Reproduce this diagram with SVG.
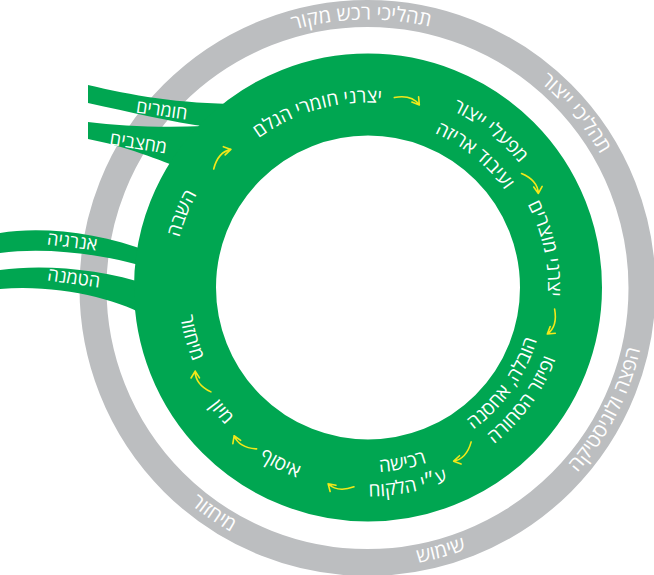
<svg xmlns="http://www.w3.org/2000/svg" width="654" height="575" viewBox="0 0 654 575">
<style>
.g{fill:#00a651}
.t{fill:#fff;font-family:"Open Sans","Liberation Sans","DejaVu Sans",sans-serif}
.gl{font-size:20px}
.rl{font-size:19px}
.bl{font-size:18px}
.arw{fill:none;stroke:#f3e81a;stroke-width:1.6;stroke-linecap:round;stroke-linejoin:round}
</style>
<defs>
<path id="pG1" d="M190.3,86.3 A268.5,268.5 0 0 1 535.4,78.5"/>
<path id="pG2" d="M459.3,35.7 A268.5,268.5 0 0 1 631.9,241.4"/>
<path id="pG3" d="M453.9,553.8 A279.5,279.5 0 0 0 633.3,201.6"/>
<path id="pG4" d="M298,558.7 A279.5,279.5 0 0 0 567.2,483.6"/>
<path id="pG5" d="M115.6,409.2 A279.5,279.5 0 0 0 346.5,566.7"/>
<path id="pL1" d="M214.6,184 A185,185 0 0 1 443.2,118.5"/>
<path id="pL2a" d="M378.3,91.8 A196,196 0 0 1 555.4,230.2"/>
<path id="pL2b" d="M365.1,119.5 A168,168 0 0 1 532.9,255.4"/>
<path id="pL3" d="M489.8,155 A180,180 0 0 1 534.2,356.7"/>
<path id="pL4a" d="M412.9,458.7 A177,177 0 0 0 544.4,273"/>
<path id="pL4b" d="M416.6,482.5 A201,201 0 0 0 568.5,273.5"/>
<path id="pL5a" d="M308.1,462.5 A185,185 0 0 0 489.6,426.9"/>
<path id="pL5b" d="M301.3,485.6 A209,209 0 0 0 506.2,444.3"/>
<path id="pL6" d="M209.1,413.9 A203,203 0 0 0 362.7,490.4"/>
<path id="pL7" d="M177,339.8 A198,198 0 0 0 285.3,467.4"/>
<path id="pL8" d="M180.5,257.1 A190,190 0 0 0 224.2,411.6"/>
<path id="pL9" d="M173.3,298.7 A195,195 0 0 1 234.3,145.6"/>
<g id="arrow"><path d="M-13,0 Q3,-7 13,1.5 M5.1,0.4 L13,1.5 L10.5,-6.1"/></g>
</defs>

<g id="outer-ring">
<circle cx="367.5" cy="288" r="274.5" fill="none" stroke="#bcbec0" stroke-width="27"/>
<text class="t gl" text-anchor="middle"><textPath href="#pG1" startOffset="50%">תהליכי רכש מקור</textPath></text>
<text class="t gl" text-anchor="middle"><textPath href="#pG2" startOffset="50%">תהליכי ייצור</textPath></text>
<text class="t gl" text-anchor="middle"><textPath href="#pG3" startOffset="50%">הפצה ולוגיסטיקה</textPath></text>
<text class="t gl" text-anchor="middle"><textPath href="#pG4" startOffset="50%">שימוש</textPath></text>
<text class="t gl" text-anchor="middle"><textPath href="#pG5" startOffset="50%">מיחזור</textPath></text>
</g>

<g id="inputs">
<g id="band-materials">
<path class="g" d="M88,85 C130,95 180,104 240,104 L210,127 C170,122 130,112 88,103 Z"/>
<text class="t bl" text-anchor="middle" transform="translate(161,116) rotate(8)">חומרים</text>
</g>
<g id="band-minerals">
<path class="g" d="M88,122 C120,126 160,128 205,126 L185,170 C160,160 125,146 88,139 Z"/>
<text class="t bl" text-anchor="middle" transform="translate(137.5,149) rotate(9)">מחצבים</text>
</g>
<g id="band-energy">
<path class="g" d="M0,233 C40,226 100,232 150,252 L150,268 C110,256 50,246 0,253 Z"/>
<text class="t bl" text-anchor="middle" transform="translate(71.5,247.5) rotate(7)">אנרגיה</text>
</g>
<g id="band-landfill">
<path class="g" d="M0,270 C40,264 100,268 150,285 L150,318 C120,300 60,284 0,289 Z"/>
<text class="t bl" text-anchor="middle" transform="translate(73,284) rotate(8)">הטמנה</text>
</g>
</g>

<g id="cycle-ring">
<circle cx="368" cy="287.5" r="193" fill="none" stroke="#00a651" stroke-width="82"/>
</g>

<g id="stages">
<g id="s1"><text class="t rl" text-anchor="middle"><textPath href="#pL1" startOffset="50%">יצרני חומרי הגלם</textPath></text></g>
<g id="s2"><text class="t rl" text-anchor="middle"><textPath href="#pL2a" startOffset="50%">מפעלי ייצור</textPath></text>
<text class="t rl" text-anchor="middle"><textPath href="#pL2b" startOffset="50%">ועיבוד אריזה</textPath></text></g>
<g id="s3"><text class="t rl" text-anchor="middle"><textPath href="#pL3" startOffset="50%">יצרני מוצרים</textPath></text></g>
<g id="s4"><text class="t rl" text-anchor="middle"><textPath href="#pL4a" startOffset="50%">הובלה, אחסנה</textPath></text>
<text class="t rl" text-anchor="middle"><textPath href="#pL4b" startOffset="50%">ופיזור הסחורה</textPath></text></g>
<g id="s5"><text class="t rl" text-anchor="middle"><textPath href="#pL5a" startOffset="50%">רכישה</textPath></text>
<text class="t rl" text-anchor="middle"><textPath href="#pL5b" startOffset="50%">ע״י הלקוח</textPath></text></g>
<g id="s6"><text class="t rl" text-anchor="middle"><textPath href="#pL6" startOffset="50%">איסוף</textPath></text></g>
<g id="s7"><text class="t rl" text-anchor="middle"><textPath href="#pL7" startOffset="50%">מיון</textPath></text></g>
<g id="s8"><text class="t rl" text-anchor="middle"><textPath href="#pL8" startOffset="50%">מיחזור</textPath></text></g>
<g id="s9"><text class="t rl" text-anchor="middle"><textPath href="#pL9" startOffset="50%">השבה</textPath></text></g>
</g>

<g id="connectors" class="arw">
<use href="#arrow" transform="translate(407,100.5) rotate(13)"/>
<use href="#arrow" transform="translate(530.5,183) rotate(46.5)"/>
<use href="#arrow" transform="translate(551.7,321.7) rotate(103)"/>
<use href="#arrow" transform="translate(463,452) rotate(129)"/>
<use href="#arrow" transform="translate(341,486) rotate(183.5)"/>
<use href="#arrow" transform="translate(245,443) rotate(207)"/>
<use href="#arrow" transform="translate(202.5,382) rotate(229.5)"/>
<use href="#arrow" transform="translate(221.7,158.7) rotate(308)"/>
</g>
</svg>
